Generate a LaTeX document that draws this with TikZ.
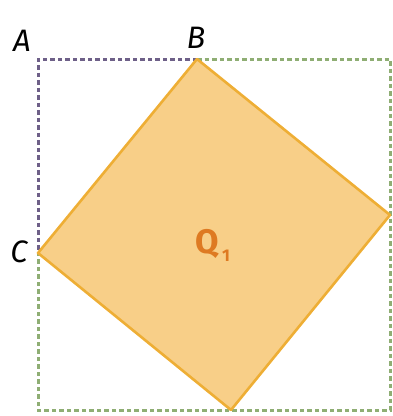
\documentclass[tikz,border=0pt]{standalone}
\usepackage{fontspec}
\setsansfont{Fira Sans}
\definecolor{quadfill}{HTML}{F8CF88}
\definecolor{quadedge}{HTML}{EEAE35}
\definecolor{quadtext}{HTML}{DE7A22}
\definecolor{purpledash}{HTML}{6E6088}
\definecolor{greendash}{HTML}{8FAE74}

\begin{document}
\begin{tikzpicture}[x=1pt, y=-1pt,
        dashline/.style={line width=3pt, dash pattern=on 4.5pt off 3pt},
        vertexlabel/.style={font=\sffamily\itshape\fontsize{31}{31}\selectfont, inner sep=0pt}]
    \useasboundingbox (0,0) rectangle (393,416);
    % outer square corners
    \coordinate (A) at (38,59);
    \coordinate (B) at (197,59);
    \coordinate (TR) at (390,59);
    \coordinate (D) at (390,215);
    \coordinate (BR) at (390,410);
    \coordinate (E) at (231,410);
    \coordinate (BL) at (38,410);
    \coordinate (C) at (38,253);
    % tilted square Q1
    \fill [quadfill] (B) -- (D) -- (E) -- (C) -- cycle;
    \draw [greendash, dashline] (B) -- (TR) -- (BR) -- (BL) -- (C);
    \draw [purpledash, dashline] (B) -- (A) -- (C);
    \draw [quadedge, line width=2.6pt, line join=round] (B) -- (D) -- (E) -- (C) -- cycle;
    % labels
    \node [vertexlabel] (labelA) at (22,41) {A};
    \node [vertexlabel] (labelB) at (196,38) {B};
    \node [vertexlabel] (labelC) at (19,252) {C};
    \node [inner sep=0pt, text=quadtext, font=\sffamily\bfseries\fontsize{34}{34}\selectfont] (labelQ) at (213,245) {Q\raisebox{-0.45ex}{\fontsize{17}{17}\selectfont\,1}};
\end{tikzpicture}
\end{document}
